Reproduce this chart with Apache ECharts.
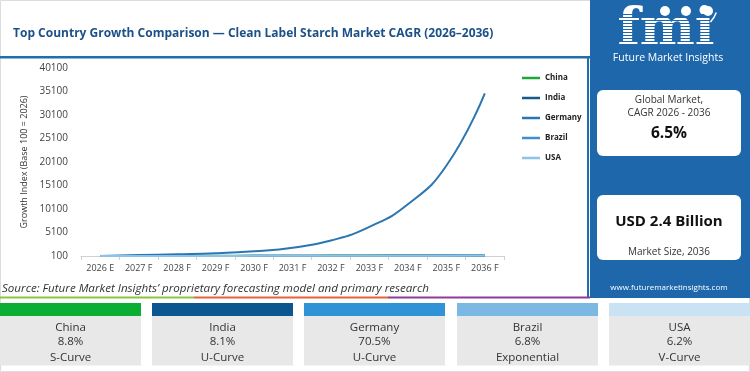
<!DOCTYPE html>
<html>
<head>
<meta charset="utf-8">
<script src="https://cdn.jsdelivr.net/npm/echarts@6/dist/echarts.min.js"></script>
<style>
html,body{margin:0;padding:0;background:#fff;}
#c{width:750px;height:372px;}
</style>
</head>
<body>
<div id="c"></div>
<script>
// ---- data ----
const categories = ['2026 E','2027 F','2028 F','2029 F','2030 F','2031 F','2032 F','2033 F','2034 F','2035 F','2036 F'];
const china   = [100, 112, 125, 140, 155, 170, 183, 195, 205, 213, 220];
const india   = [100, 104, 110, 118, 130, 145, 160, 176, 192, 205, 218];
const germany = [100, 290, 450, 660, 1100, 1850, 3400, 6300, 11100, 19300, 34700];
const brazil  = [100, 107, 114, 122, 130, 139, 148, 158, 169, 181, 193];
const usa     = [100, 106, 113, 120, 127, 135, 143, 152, 161, 171, 182];
const yTicks  = [100, 5100, 10100, 15100, 20100, 25100, 30100, 35100, 40100];
const seriesNames = ['China','India','Germany','Brazil','USA'];
const lineColors  = ['#1fa83a','#175a8c','#2a76b2','#3d8fd2','#8ec3e8'];
const cardNames   = ['China','India','Germany','Brazil','USA'];
const cardCagr    = ['8.8%','8.1%','70.5%','6.8%','6.2%'];
const cardShape   = ['S-Curve','U-Curve','U-Curve','Exponential','V-Curve'];
const cardColors  = ['#0aae33','#0b568e','#2f93d6','#7bb9e3','#c9e3f5'];
const titleText = 'Top Country Growth Comparison \u2014 Clean Label Starch Market CAGR (2026\u20132036)';

const seriesData = [china, india, germany, brazil, usa];

const chart = echarts.init(document.getElementById('c'), null, {renderer:'canvas'});

const graphics = [];
graphics.push({type:'rect', shape:{x:0.5,y:0.5,width:749,height:371}, style:{fill:'none', stroke:'#dcdcdc', lineWidth:1}, z:0, silent:true});
graphics.push({type:'rect', shape:{x:0,y:56,width:590,height:2.5}, style:{fill:'#1f6eb0'}, z:5});
graphics.push({type:'rect', shape:{x:587,y:56,width:2,height:241}, style:{fill:'#1f6eb0'}, z:5});
graphics.push({type:'rect', shape:{x:0,y:296.5,width:194,height:2}, style:{fill:'#8cc63f'}, z:5});
graphics.push({type:'rect', shape:{x:194,y:296.5,width:194,height:2}, style:{fill:'#e8613a'}, z:5});
graphics.push({type:'rect', shape:{x:388,y:296.5,width:202,height:2}, style:{fill:'#8e3b9c'}, z:5});
graphics.push({type:'text', x:2, y:288.5, style:{text:"Source: Future Market Insights\u2019 proprietary forecasting model and primary research", font:'italic 11.6px "Open Sans", sans-serif', fill:'#333', verticalAlign:'middle'}, z:5});

const px = 590, pw = 160, cx = 669;
graphics.push({type:'rect', shape:{x:px,y:0,width:pw,height:298}, style:{fill:'#1e67ab'}, z:5});
graphics.push({type:'text', x:666, y:31, style:{text:'fmi', font:'bold 52px "DejaVu Serif", serif', fill:'#ffffff', align:'center', verticalAlign:'middle'}, z:6});
for (let yy = 14; yy < 48; yy += 3) {
  graphics.push({type:'rect', shape:{x:606,y:yy,width:122,height:1}, style:{fill:'#1e67ab'}, z:7});
}
graphics.push({type:'circle', shape:{cx:665,cy:11,r:5}, style:{fill:'#ffffff'}, z:8});
graphics.push({type:'circle', shape:{cx:686,cy:11,r:5}, style:{fill:'#ffffff'}, z:8});
graphics.push({type:'circle', shape:{cx:708,cy:11,r:5}, style:{fill:'#ffffff'}, z:8});
graphics.push({type:'arc', shape:{cx:690,cy:3,r:28,startAngle:0.35,endAngle:0.75}, style:{stroke:'#ffffff', lineWidth:1.5, fill:'none'}, z:8});
graphics.push({type:'text', x:668, y:58, style:{text:'Future Market Insights', font:'10.5px "Open Sans", sans-serif', fill:'#ffffff', align:'center', verticalAlign:'middle'}, z:8});
graphics.push({type:'rect', shape:{x:597,y:90,width:144,height:66,r:6}, style:{fill:'#ffffff'}, z:6});
graphics.push({type:'text', x:cx, y:100.5, style:{text:'Global Market,', font:'10px "Open Sans", sans-serif', fill:'#333', align:'center', verticalAlign:'middle'}, z:7});
graphics.push({type:'text', x:cx, y:113.5, style:{text:'CAGR 2026 - 2036', font:'10px "Open Sans", sans-serif', fill:'#333', align:'center', verticalAlign:'middle'}, z:7});
graphics.push({type:'text', x:cx, y:134, style:{text:'6.5%', font:'bold 15.5px "Open Sans", sans-serif', fill:'#111', align:'center', verticalAlign:'middle'}, z:7});
graphics.push({type:'rect', shape:{x:597,y:195,width:144,height:65,r:6}, style:{fill:'#ffffff'}, z:6});
graphics.push({type:'text', x:cx, y:222, style:{text:'USD 2.4 Billion', font:'bold 15px "Open Sans", sans-serif', fill:'#111', align:'center', verticalAlign:'middle'}, z:7});
graphics.push({type:'text', x:cx, y:252, style:{text:'Market Size, 2036', font:'10px "Open Sans", sans-serif', fill:'#333', align:'center', verticalAlign:'middle'}, z:7});
graphics.push({type:'text', x:cx, y:288, style:{text:'www.futuremarketinsights.com', font:'8px "Open Sans", sans-serif', fill:'#ffffff', align:'center', verticalAlign:'middle'}, z:7});

for (let i = 0; i < cardNames.length; i++) {
  const x0 = Math.round(i * 152.2);
  const w = Math.min(141, 750 - x0);
  graphics.push({type:'rect', shape:{x:x0,y:303,width:w,height:13}, style:{fill:cardColors[i]}, z:5});
  graphics.push({type:'rect', shape:{x:x0,y:316,width:w,height:49.5}, style:{fill:'#e8e8e8'}, z:5});
  const tx = x0 + 141/2;
  graphics.push({type:'text', x:tx, y:327.5, style:{text:cardNames[i], font:'11.5px "Open Sans", sans-serif', fill:'#333', align:'center', verticalAlign:'middle'}, z:6});
  graphics.push({type:'text', x:tx, y:342, style:{text:cardCagr[i], font:'11.5px "Open Sans", sans-serif', fill:'#333', align:'center', verticalAlign:'middle'}, z:6});
  graphics.push({type:'text', x:tx, y:357.5, style:{text:cardShape[i], font:'11.5px "Open Sans", sans-serif', fill:'#333', align:'center', verticalAlign:'middle'}, z:6});
}

const option = {
  backgroundColor:'#ffffff',
  animation:false,
  title:{
    text: titleText, left:8, top:23,
    textStyle:{fontSize:12, fontWeight:'bold', color:'#1b5188', fontFamily:'"Open Sans", sans-serif'}
  },
  legend:{
    orient:'vertical', left:517, top:68,
    data: seriesNames,
    icon:'rect', itemWidth:18, itemHeight:2.5, itemGap:10,
    textStyle:{fontSize:8, fontWeight:'bold', color:'#222', lineHeight:10, fontFamily:'"Open Sans", sans-serif'}
  },
  grid:{left:81, right:246, top:68, bottom:116, containLabel:false},
  xAxis:{
    type:'category', data:categories, boundaryGap:true,
    axisLine:{lineStyle:{color:'#d0d0d0', width:1}},
    axisTick:{show:true, length:4, lineStyle:{color:'#d0d0d0'}},
    axisLabel:{color:'#444', fontSize:9, margin:8, fontFamily:'"Open Sans", sans-serif'}
  },
  yAxis:{
    type:'value', min:100, max:40100,
    name:'Growth Index (Base 100 = 2026)', nameLocation:'middle', nameGap:43,
    nameTextStyle:{fontSize:9, color:'#333', fontFamily:'"Open Sans", sans-serif'},
    axisLine:{show:false}, axisTick:{show:false}, splitLine:{show:false},
    axisLabel:{customValues:yTicks, formatter:(v)=>String(v), color:'#444', fontSize:10, margin:13, fontFamily:'"Open Sans", sans-serif'}
  },
  series: seriesNames.map((n, i) => ({
    name:n, type:'line', data:seriesData[i], smooth:true, symbol:'none',
    lineStyle:{width:2, color:lineColors[i]}, itemStyle:{color:lineColors[i]}
  })),
  graphic: graphics
};
chart.setOption(option);
</script>
</body>
</html>
